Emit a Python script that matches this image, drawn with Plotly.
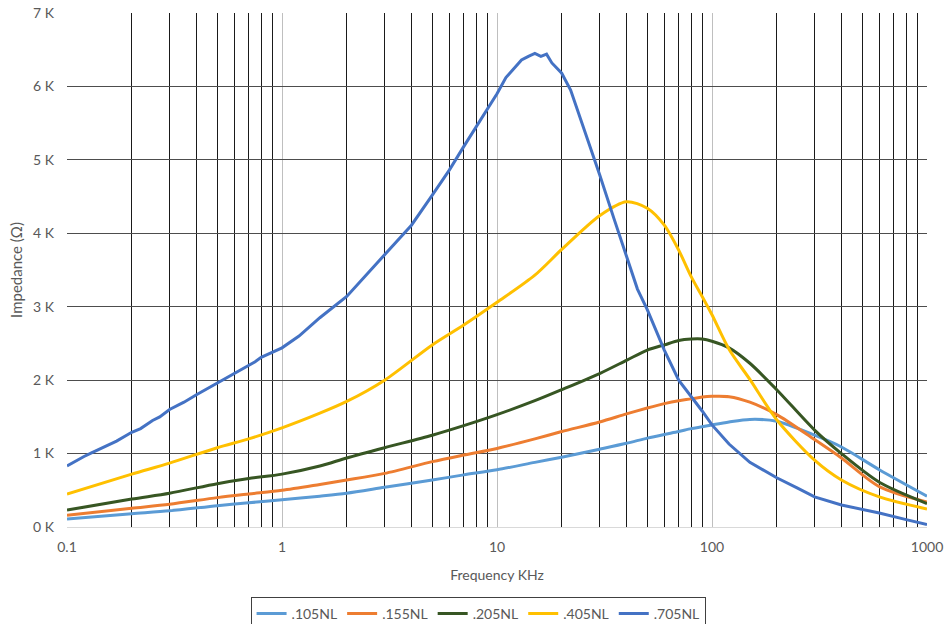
import plotly.graph_objects as go

# Frequency (KHz) for the smooth curves
freq = [0.1, 0.2, 0.3, 0.5, 0.7, 1, 1.5, 2, 3, 5, 7, 10, 15, 20, 30, 40, 50, 60, 70,
        80, 90, 100, 120, 150, 200, 300, 400, 600, 1000]

nl105 = [110, 180, 220, 290, 330, 370, 420, 460, 540, 640, 710, 780, 880, 950, 1060, 1140,
         1210, 1260, 1300, 1340, 1365, 1390, 1430, 1465, 1440, 1250, 1090, 780, 420]
nl155 = [160, 255, 310, 400, 450, 500, 580, 640, 730, 890, 980, 1070, 1200, 1300, 1430, 1540,
         1620, 1680, 1720, 1745, 1770, 1780, 1775, 1700, 1530, 1190, 940, 550, 340]
nl205 = [230, 380, 460, 590, 660, 720, 830, 940, 1080, 1250, 1380, 1530, 1720, 1870, 2090, 2270,
         2410, 2480, 2540, 2560, 2560, 2530, 2440, 2230, 1870, 1320, 1000, 610, 320]
nl405 = [450, 720, 870, 1080, 1200, 1350, 1550, 1710, 2000, 2480, 2750, 3060, 3430, 3780, 4240, 4430,
         4340, 4110, 3770, 3410, 3140, 2890, 2420, 2010, 1460, 910, 640, 410, 245]

# .705NL has its own (denser, slightly noisy) frequency list
freq705 = [0.1, 0.11, 0.12, 0.13, 0.15, 0.17, 0.2, 0.22, 0.25, 0.27, 0.3, 0.35, 0.4, 0.5, 0.6,
           0.7, 0.75, 0.8, 0.9, 1, 1.2, 1.5, 2, 2.5, 3, 4, 5, 6, 7, 8, 9, 10, 11, 12, 13, 14,
           15, 16, 17, 18, 20, 22, 25, 30, 35, 40, 45, 50, 60, 70, 80, 90, 100, 120, 150,
           200, 250, 300, 400, 500, 600, 800, 1000]
nl705 = [830, 900, 960, 1010, 1100, 1170, 1290, 1340, 1450, 1500, 1600, 1700, 1800, 1960, 2100,
         2200, 2250, 2310, 2380, 2440, 2600, 2850, 3140, 3450, 3710, 4110, 4520, 4860, 5180, 5450,
         5700, 5900, 6120, 6250, 6360, 6410, 6450, 6410, 6440, 6320, 6180, 5950, 5480, 4800, 4200,
         3680, 3240, 2960, 2410, 2000, 1780, 1580, 1390, 1130, 880, 670, 530, 410, 300, 240, 190,
         100, 35]

series_names = [".105NL", ".155NL", ".205NL", ".405NL", ".705NL"]
series_colors = ["#5B9BD5", "#ED7D31", "#375623", "#FFC000", "#4472C4"]

ytick_vals = [0, 1000, 2000, 3000, 4000, 5000, 6000, 7000]
ytick_text = ["0 K", "1 K", "2 K", "3 K", "4 K", "5 K", "6 K", "7 K"]
xtick_vals = [0.1, 1, 10, 100, 1000]
xtick_text = ["0.1", "1", "10", "100", "1000"]

fig = go.Figure()
data = [(freq, nl105), (freq, nl155), (freq, nl205), (freq, nl405), (freq705, nl705)]
for (xs, ys), name, col in zip(data, series_names, series_colors):
    fig.add_trace(go.Scatter(x=xs, y=ys, mode="lines", name=name,
                             line=dict(color=col, width=3,
                                       shape="spline" if name != ".705NL" else "linear",
                                       smoothing=0.8)))

fig.update_layout(
    width=944, height=624,
    margin=dict(l=67, r=17, t=13, b=97, autoexpand=False),
    paper_bgcolor="white", plot_bgcolor="white",
    font=dict(family="Lato, Noto Sans, sans-serif", size=14, color="#595959"),
    showlegend=True,
    legend=dict(orientation="h", x=0.478, xanchor="center", y=-0.136, yanchor="top",
                bordercolor="#404040", borderwidth=1, font=dict(size=14, color="#595959"),
                itemwidth=30, tracegroupgap=0),
)
fig.update_xaxes(
    type="log", range=[-1, 3], automargin=False,
    tickvals=xtick_vals, ticktext=xtick_text, ticks="", ticklabelstandoff=10,
    showgrid=True, gridcolor="#BFBFBF", gridwidth=1,
    minor=dict(dtick="D1", showgrid=True, gridcolor="#1a1a1a", gridwidth=1, ticks=""),
    showline=False, zeroline=False,
    title=dict(text="Frequency KHz", font=dict(size=14, color="#595959"), standoff=16),
)
fig.update_yaxes(
    range=[0, 7000], automargin=False,
    tickvals=ytick_vals, ticktext=ytick_text, ticks="", ticklabelstandoff=12,
    showgrid=True, gridcolor="#4d4d4d", gridwidth=1,
    zeroline=True, zerolinecolor="#D9D9D9", zerolinewidth=1,
    showline=False,
    title=dict(text="Impedance (Ω)", font=dict(size=15, color="#595959"), standoff=6),
)

fig.write_html("out.html", config={"displayModeBar": False},
               post_script="document.body.style.margin='0px';document.body.style.overflow='hidden';")
